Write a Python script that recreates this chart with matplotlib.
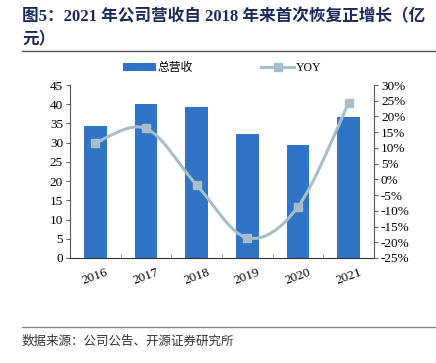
import matplotlib
matplotlib.use("Agg")
import matplotlib.pyplot as plt
import numpy as np
from matplotlib.path import Path
from matplotlib.patches import PathPatch
from matplotlib.lines import Line2D
from matplotlib.patches import Patch

years = ["2016", "2017", "2018", "2019", "2020", "2021"]
revenue = [34.4, 40.0, 39.3, 32.3, 29.4, 36.6]
yoy = [11.6, 16.2, -1.8, -18.6, -8.7, 24.3]
left_ticks = [0, 5, 10, 15, 20, 25, 30, 35, 40, 45]
right_ticks = [-25, -20, -15, -10, -5, 0, 5, 10, 15, 20, 25, 30]

BAR = "#2F74C6"
LINE = "#A7BDCA"
TITLE = "#1B2A5C"
serif = ["Liberation Serif", "DejaVu Serif"]
cjk = ["Liberation Serif", "Noto Sans CJK SC"]

fig = plt.figure(figsize=(4.36, 3.63), dpi=100)
ax = fig.add_axes([70/436, 1-258/363, 304/436, 173/363])
ax2 = ax.twinx()

x = np.arange(len(years))
ax.bar(x, revenue, width=0.45, color=BAR, zorder=2)
ax.set_xlim(-0.5, len(years)-0.5)
ax.set_ylim(0, 45)
ax.set_yticks(left_ticks)
ax.set_yticklabels([str(t) for t in left_ticks], fontfamily=serif, fontsize=9.5)
ax.set_xticks(x)
ax.set_xticklabels(years, fontfamily=serif, fontsize=9.5, rotation=20)
ax.tick_params(axis="x", length=0, pad=6)
ax.set_xticks(np.arange(len(years)+1)-0.5, minor=True)
ax.tick_params(axis="x", which="minor", direction="in", length=3, color="#888888")
ax.tick_params(axis="y", direction="out", length=3, color="#666666", pad=2)
ax.spines["top"].set_visible(False)
ax.spines["right"].set_visible(False)
ax2.spines["top"].set_visible(False)
ax.spines["left"].set_color("#555555")
ax.spines["bottom"].set_color("#333333")
ax2.spines["left"].set_visible(False)
ax2.spines["bottom"].set_visible(False)
ax2.spines["right"].set_color("#555555")

ax2.set_ylim(-25, 30)
ax2.set_yticks(right_ticks)
ax2.set_yticklabels([f"{t}%" for t in right_ticks], fontfamily=serif, fontsize=9.5)
ax2.tick_params(axis="y", direction="out", length=3, color="#666666", pad=2)

# smooth curve (Catmull-Rom converted to cubic Bezier) through data points
pts = np.column_stack([x, yoy]).astype(float)
verts = [tuple(pts[0])]
codes = [Path.MOVETO]
n = len(pts)
for i in range(n-1):
    p0 = pts[i-1] if i > 0 else pts[i]
    p1 = pts[i]
    p2 = pts[i+1]
    p3 = pts[i+2] if i+2 < n else pts[i+1]
    c1 = p1 + (p2 - p0) / 6.0
    c2 = p2 - (p3 - p1) / 6.0
    verts += [tuple(c1), tuple(c2), tuple(p2)]
    codes += [Path.CURVE4]*3
ax2.add_patch(PathPatch(Path(verts, codes), facecolor="none", edgecolor=LINE, lw=2.2, zorder=3))
ax2.plot(x, yoy, linestyle="none", marker="s", markersize=5.5, color=LINE, zorder=4)

handles = [Patch(facecolor=BAR, edgecolor="none"),
           Line2D([0], [0], color=LINE, lw=2.2, marker="s", markersize=5.5)]
leg = fig.legend(handles, ["总营收", "YOY"], loc="center", bbox_to_anchor=(222/436, 1-68/363),
                 ncol=2, frameon=False, columnspacing=5.8, handlelength=2.8, handleheight=0.6,
                 handletextpad=0.15, prop={"family": cjk, "size": 8.5})

# title
fig.text(22/436, 1-17/363, "图5：2021 年公司营收自 2018 年来首次恢复正增长（亿",
         fontfamily=cjk, fontsize=12, fontweight="bold", color=TITLE, va="center", ha="left")
fig.text(22/436, 1-40/363, "元）", fontfamily=cjk, fontsize=12, fontweight="bold",
         color=TITLE, va="center", ha="left")
fig.add_artist(Line2D([22/436, 1.0], [1-51/363]*2, color="#555555", lw=1))
fig.add_artist(Line2D([22/436, 1.0], [1-327/363]*2, color="#888888", lw=1))
fig.text(22/436, 1-342/363, "数据来源：公司公告、开源证券研究所", fontfamily=cjk,
         fontsize=9, color="#333333", va="center", ha="left")

fig.savefig("out.png", dpi=100)
